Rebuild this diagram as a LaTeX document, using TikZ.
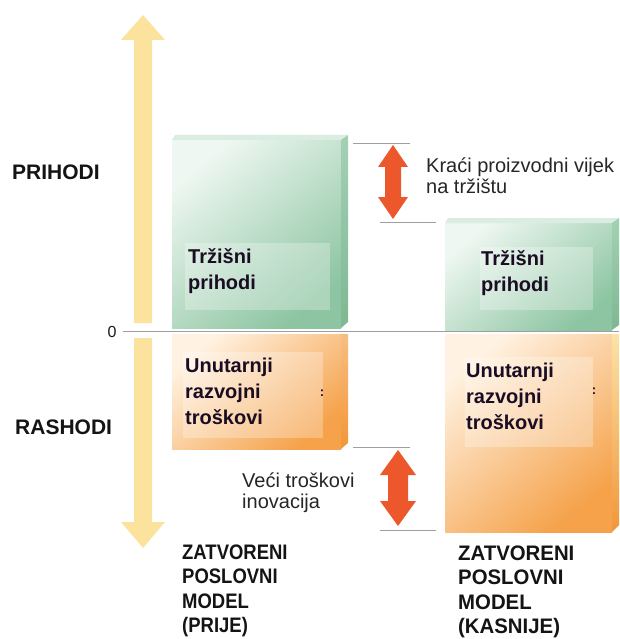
\documentclass[tikz,border=0pt]{standalone}
\usepackage{fontspec}
\usepackage{graphicx}
\setmainfont{Liberation Sans}
\definecolor{axisyellow}{HTML}{FBE39E}
\definecolor{redarrow}{HTML}{EC582C}
\definecolor{greenlight}{HTML}{EEF7F1}
\definecolor{greendark}{HTML}{8DC5A2}
\definecolor{greenbevel}{HTML}{7DB892}
\definecolor{greentop}{HTML}{D9EDE0}
\definecolor{orangelight}{HTML}{FFF2E2}
\definecolor{orangedark}{HTML}{F5A24A}
\definecolor{orangebevel}{HTML}{F29639}
\definecolor{bevelyellow}{HTML}{FBE3A8}
\definecolor{inktext}{HTML}{1A0C22}
\newcommand{\textstack}[1]{\begin{tabular}[t]{@{}l@{}}#1\end{tabular}}
\begin{document}
\begin{tikzpicture}[x=1pt,y=-1pt,
  lbl/.style={inner sep=0pt, anchor=base west, font=\fontsize{21}{24.5}\selectfont\bfseries, text=black!92},
  boxtxt/.style={inner sep=0pt, anchor=base west, font=\fontsize{20}{26}\selectfont\bfseries, text=inktext},
  note/.style={inner sep=0pt, anchor=base west, font=\fontsize{20}{21.5}\selectfont, text=black!85},
  guide/.style={draw=gray!75, line width=0.8pt},
  inner/.style={fill=white, fill opacity=0.28, draw=none},
  greenface/.style={top color=greenlight, bottom color=greendark, shading angle=40},
  orangeface/.style={top color=orangelight, bottom color=orangedark, shading angle=40},
  dots/.style={inner sep=0pt, font=\fontsize{13}{13}\selectfont\bfseries, text=inktext}
]
\useasboundingbox[fill=white] (0,0) rectangle (619,639);

% vertical axis: up arrow for revenues, down arrow for costs
\fill[axisyellow] (143,15) -- (165,40) -- (152,40) -- (152,323) -- (134,323) -- (134,40) -- (121,40) -- cycle;
\fill[axisyellow] (143,548) -- (165,522) -- (152,522) -- (152,338) -- (134,338) -- (134,522) -- (121,522) -- cycle;

% closed model, before: revenue block
\shade[greenface] (172,140) rectangle (341,328);
\fill[greentop] (172,140) -- (341,140) -- (348,135) -- (175,135) -- cycle;
\shade[top color=greendark!80, bottom color=greenbevel] (341,140) -- (348,135) -- (348,322) -- (341,328) -- cycle;
\fill[inner] (185,243) rectangle (330,310);
\node[boxtxt] (rev1) at (188,263) {\textstack{Tržišni\\prihodi}};

% closed model, before: cost block
\shade[orangeface] (172,334) rectangle (341,449);
\shade[top color=orangedark!70, bottom color=orangebevel] (341,334) -- (348,334) -- (348,443) -- (341,449) -- cycle;
\fill[inner] (183,352) rectangle (323,438);
\node[boxtxt] (cost1) at (185,372) {\textstack{Unutarnji\\razvojni\\troškovi}};
\node[dots] (c1) at (322,393) {:};

% closed model, later: revenue block
\shade[greenface] (445,223) rectangle (612,330);
\fill[greentop] (445,223) -- (612,223) -- (619,218) -- (448,218) -- cycle;
\shade[top color=greendark!80, bottom color=greenbevel] (612,223) -- (619,218) -- (619,325) -- (612,330) -- cycle;
\fill[inner] (480,247) rectangle (593,310);
\node[boxtxt] (rev2) at (481,265) {\textstack{Tržišni\\prihodi}};

% closed model, later: cost block
\shade[orangeface] (445,334) rectangle (612,532);
\shade[top color=bevelyellow, bottom color=orangebevel] (612,334) -- (619,334) -- (619,525) -- (612,532) -- cycle;
\fill[inner] (465,357) rectangle (593,447);
\node[boxtxt] (cost2) at (466,377) {\textstack{Unutarnji\\razvojni\\troškovi}};
\node[dots] (c2) at (594,391) {:};

% zero line
\node[inner sep=0pt, font=\fontsize{16}{16}\selectfont, text=black!90] (zero) at (112,332) {0};
\coordinate (axisR) at (619,331);
\draw[guide] (zero.east) ++(6,-1) -- (axisR);

% guide lines and difference arrows
\coordinate (g1a) at (353,143); \coordinate (g1b) at (410,143);
\coordinate (g2a) at (380,222); \coordinate (g2b) at (436,222);
\coordinate (g3a) at (353,447); \coordinate (g3b) at (410,447);
\coordinate (g4a) at (380,530); \coordinate (g4b) at (436,530);
\draw[guide] (g1a) -- (g1b);
\draw[guide] (g2a) -- (g2b);
\draw[guide] (g3a) -- (g3b);
\draw[guide] (g4a) -- (g4b);

\fill[redarrow] (393,145) -- (408,167) -- (401,167) -- (401,197) -- (408,197) -- (393,219) -- (378,197) -- (385,197) -- (385,167) -- (378,167) -- cycle;
\fill[redarrow] (398,450) -- (416,475) -- (408,475) -- (408,501) -- (416,501) -- (398,526) -- (380,501) -- (388,501) -- (388,475) -- (380,475) -- cycle;

\node[note] (short) at (426,172) {\textstack{Kraći proizvodni vijek\\na tržištu}};
\node[note] (higher) at (242,487) {\textstack{Veći troškovi\\inovacija}};

% side and bottom labels
\node[lbl] (rev) at (12,179) {PRIHODI};
\node[lbl] (exp) at (15,434) {RASHODI};
\node[lbl] (before) at (182,559) {\scalebox{0.88}[1]{\textstack{ZATVORENI\\POSLOVNI\\MODEL\\(PRIJE)}}};
\node[lbl] (after) at (458,560) {\scalebox{0.97}[1]{\textstack{ZATVORENI\\POSLOVNI\\MODEL\\(KASNIJE)}}};
\end{tikzpicture}
\end{document}
